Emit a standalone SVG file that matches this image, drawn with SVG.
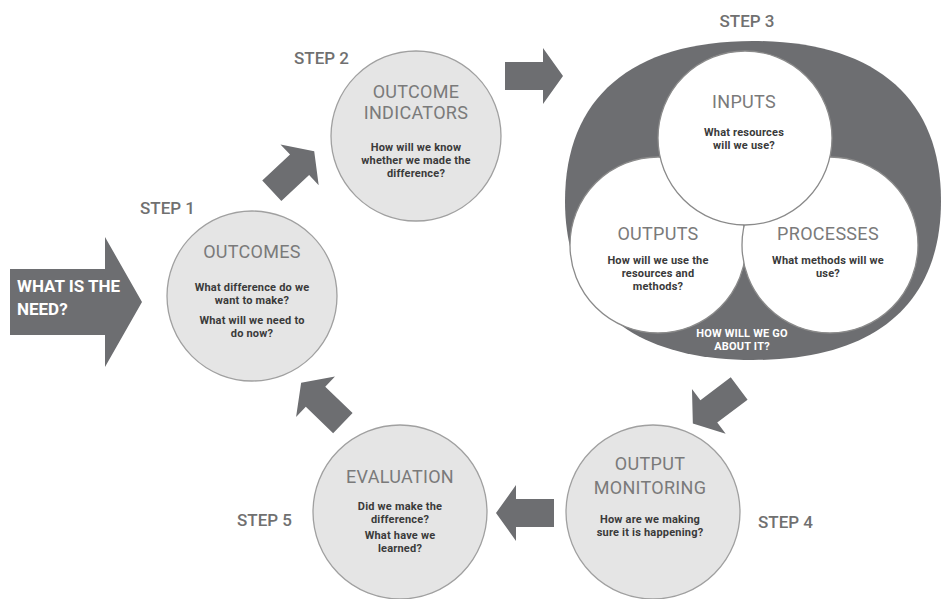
<svg xmlns="http://www.w3.org/2000/svg" width="943" height="599" viewBox="0 0 943 599">
<defs>
<style>
.bg{fill:#ffffff}
.node{fill:#e5e5e5;stroke:#a0a0a0;stroke-width:1.3}
.inner{fill:#ffffff;stroke:#8a8a8a;stroke-width:1.3}
.dark{fill:#6d6e71}
.title{font-family:Roboto,"Liberation Sans",sans-serif;font-size:18px;fill:#7a7a7a;text-anchor:middle;letter-spacing:0.3px}
.q{font-family:Roboto,"Liberation Sans",sans-serif;font-size:11px;font-weight:bold;fill:#3a3a3a;text-anchor:middle;letter-spacing:0.2px}
.step{font-family:Roboto,"Liberation Sans",sans-serif;font-size:17px;fill:#707070;font-weight:500}
.wq{font-family:Roboto,"Liberation Sans",sans-serif;font-size:11px;font-weight:bold;fill:#ffffff;text-anchor:middle;letter-spacing:0.2px}
.need{font-family:Roboto,"Liberation Sans",sans-serif;font-size:17px;font-weight:bold;fill:#ffffff}
</style>
<polygon id="arr" points="-29,-14 9,-14 9,-28 29,0 9,28 9,14 -29,14"/>
</defs>
<rect class="bg" x="0" y="0" width="943" height="599"/>

<g id="need">
<polygon class="dark" points="10,269 105,269 105,237 142,302 105,367 105,335 10,335"/>
<text class="need" x="17" y="292">WHAT IS THE</text>
<text class="need" x="17" y="315">NEED?</text>
</g>

<g id="connectors" class="dark">
<use href="#arr" transform="translate(293,171) rotate(-43)"/>
<use href="#arr" transform="translate(534,76)"/>
<use href="#arr" transform="translate(716,406) rotate(143)"/>
<use href="#arr" transform="translate(525,513) rotate(180)"/>
<use href="#arr" transform="translate(322,403) rotate(224)"/>
</g>

<g id="step1">
<text class="step" x="140" y="214">STEP 1</text>
<circle class="node" cx="252" cy="296" r="85"/>
<text class="title" x="252" y="258">OUTCOMES</text>
<text class="q" x="252" y="291">What difference do we</text>
<text class="q" x="252" y="304">want to make?</text>
<text class="q" x="252" y="324">What will we need to</text>
<text class="q" x="252" y="337">do now?</text>
</g>

<g id="step2">
<text class="step" x="294" y="64">STEP 2</text>
<circle class="node" cx="416" cy="136" r="85"/>
<text class="title" x="416" y="98">OUTCOME</text>
<text class="title" x="416" y="119">INDICATORS</text>
<text class="q" x="416" y="151">How will we know</text>
<text class="q" x="416" y="164">whether we made the</text>
<text class="q" x="416" y="177">difference?</text>
</g>

<g id="step3">
<text class="step" x="747" y="27" text-anchor="middle">STEP 3</text>
<path class="dark" d="M753,41 C875,41 941,98 941,201 C941,304 875,360 753,360 C631,360 565,304 565,201 C565,98 631,41 753,41 Z"/>
<g id="outputs">
<circle class="inner" cx="658" cy="245" r="88"/>
<text class="title" x="658" y="240">OUTPUTS</text>
<text class="q" x="658" y="264">How will we use the</text>
<text class="q" x="658" y="277">resources and</text>
<text class="q" x="658" y="290">methods?</text>
</g>
<g id="processes">
<circle class="inner" cx="830" cy="245" r="88"/>
<text class="title" x="828" y="240">PROCESSES</text>
<text class="q" x="828" y="264">What methods will we</text>
<text class="q" x="828" y="277">use?</text>
</g>
<g id="inputs">
<circle class="inner" cx="745" cy="138" r="87"/>
<text class="title" x="744" y="108">INPUTS</text>
<text class="q" x="744" y="136">What resources</text>
<text class="q" x="744" y="149">will we use?</text>
</g>
<text class="wq" x="742" y="337">HOW WILL WE GO</text>
<text class="wq" x="742" y="350">ABOUT IT?</text>
</g>

<g id="step4">
<circle class="node" cx="653" cy="512" r="87"/>
<text class="title" x="650" y="470">OUTPUT</text>
<text class="title" x="650" y="494">MONITORING</text>
<text class="q" x="650" y="523">How are we making</text>
<text class="q" x="650" y="536">sure it is happening?</text>
<text class="step" x="758" y="528">STEP 4</text>
</g>

<g id="step5">
<text class="step" x="237" y="526">STEP 5</text>
<circle class="node" cx="400" cy="512" r="87"/>
<text class="title" x="400" y="483">EVALUATION</text>
<text class="q" x="400" y="510">Did we make the</text>
<text class="q" x="400" y="523">difference?</text>
<text class="q" x="400" y="539">What have we</text>
<text class="q" x="400" y="552">learned?</text>
</g>
</svg>
